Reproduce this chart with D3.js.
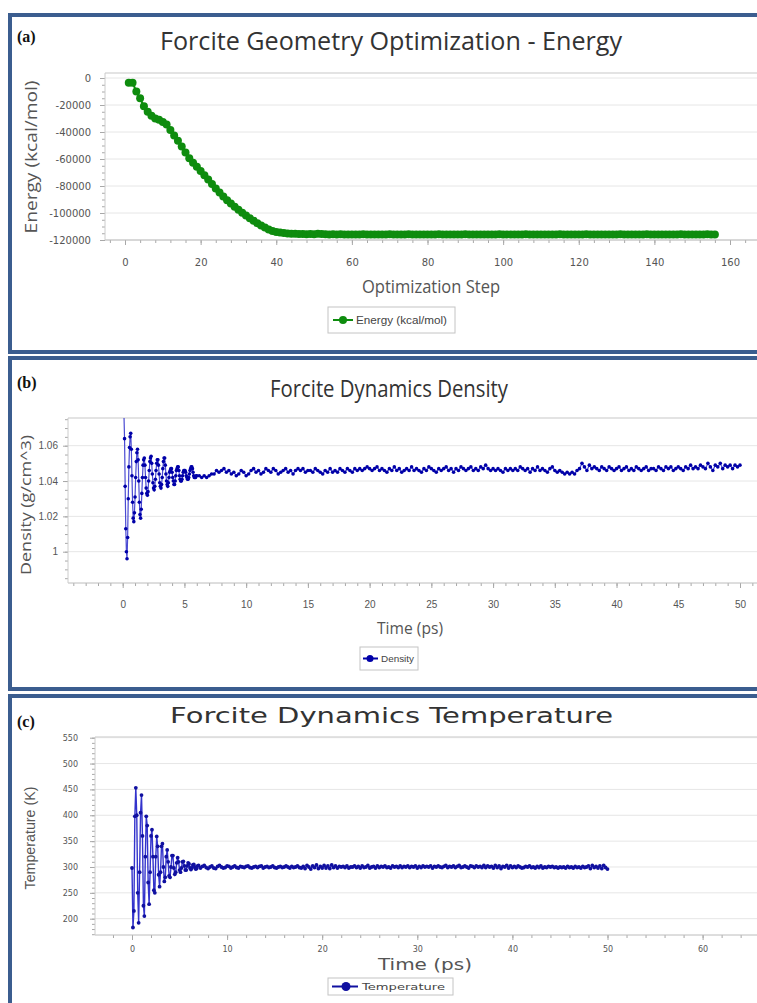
<!DOCTYPE html>
<html lang="en">
<head>
<meta charset="UTF-8">
<title>Forcite results</title>
<script src="https://cdn.jsdelivr.net/npm/d3@7"></script>
<style>
  body{margin:0;background:#fff;}
  svg{display:block;}
  .tick line{stroke:#a8a8a8;}
  .tick text{fill:#555;}
</style>
</head>
<body>
<svg id="main" width="757" height="1003"></svg>
<script>
// ---------- (a) geometry optimization, energy per step (step 1..156)
const energy = [
  -3500,-3500,-10000,-15000,-21000,-25000,-28000,-30000,-31000,-32500,
  -34500,-38500,-42500,-46500,-50800,-55200,-59500,-62800,-65800,-68800,
  -72000,-75200,-78500,-81800,-84800,-87800,-90500,-93000,-95400,-97600,
  -99800,-101800,-103800,-105800,-107600,-109300,-110800,-112200,-113300,-114000,
  -114500,-114900,-115100,-115300,-115400,
  -115500,-115600,-115700,-115600,-115800,-115400,-115600,-115800,-115900,-115800,
  -115900,-115800,-116000,-115900,-115900,-116000,-115900,-115800,-115900,-116000,
  -115900,-115900,-116000,-115900,-115800,-115900,-116000,-115900,-115900,-115800,
  -115900,-116000,-115900,-115900,-115900,-116000,-115900,-115800,-115900,-115900,
  -116000,-115900,-115900,-115900,-115800,-115900,-116000,-115900,-115900,-115900,
  -115900,-116000,-115900,-115800,-115900,-115900,-116000,-115900,-115900,-115900,
  -115800,-115900,-116000,-115900,-115900,-115900,-115900,-116000,-115900,-115800,
  -115900,-115900,-116000,-115900,-115900,-115900,-115800,-115900,-116000,-115900,
  -115900,-115900,-115900,-116000,-115900,-115800,-115900,-115900,-116000,-115900,
  -115900,-115900,-115800,-115900,-116000,-115900,-115900,-115900,-115900,-116000,
  -115900,-115800,-115900,-115900,-116000,-115900,-115900,-115900,-115800,-115900,
  -115900
];
const energyFirstStep = 1;

// ---------- (b) dynamics density, g/cm^3
const densityEarlyStart = 0.1, densityEarlyStep = 0.05;
const densityEarly = [
  1.078,1.064,1.037,1.013,1.000,0.996,1.008,1.030,1.048,1.059,
  1.065,1.067,1.058,1.043,1.028,1.019,1.017,1.022,1.031,1.042,
  1.051,1.056,1.058,1.052,1.040,1.028,1.021,1.019,1.024,1.033,
  1.042,1.049,1.052,1.053,1.049,1.042,1.036,1.033,1.032,1.034,
  1.040,1.046,1.051,1.053,1.054,1.050,1.044,1.039,1.036,1.035,
  1.037,1.041,1.046,1.050,1.052,1.052,1.049,1.044,1.039,1.037,
  1.036,1.038,1.042,1.047,1.051,1.053,1.053,1.049,1.044,1.040,
  1.038,1.037,1.039,1.042,1.045,1.046,1.047,1.047,1.045,1.042,
  1.040,1.038,1.038,1.040,1.043,1.046,1.047,1.048,1.048,1.046,
  1.043,1.041,1.040,1.040,1.041,1.043,1.045,1.046,1.046,1.046,
  1.045,1.043,1.042,1.041,1.041,1.042,1.044,1.046,1.047,1.048,
  1.048,1.047,1.045,1.043,1.042,1.042,1.042,1.043,1.043
];
const densityLateStart = 6.2, densityLateStep = 0.2;
const densityLate = [
  1.043,1.042,1.043,1.042,1.043, 1.044,1.044,1.046,1.045,1.046,
  1.047,1.045,1.046,1.044,1.045, 1.043,1.044,1.046,1.045,1.043,
  1.044,1.046,1.047,1.045,1.046, 1.044,1.045,1.047,1.046,1.045,
  1.047,1.046,1.044,1.045,1.046, 1.047,1.045,1.046,1.044,1.046,
  1.047,1.046,1.047,1.045,1.046, 1.046,1.045,1.047,1.046,1.045,
  1.044,1.046,1.045,1.047,1.045, 1.046,1.045,1.047,1.046,1.045,
  1.047,1.046,1.045,1.047,1.046, 1.047,1.046,1.047,1.048,1.047,
  1.046,1.047,1.048,1.046,1.047, 1.046,1.045,1.047,1.046,1.048,
  1.046,1.047,1.045,1.046,1.047, 1.046,1.048,1.046,1.047,1.046,
  1.045,1.047,1.046,1.048,1.047, 1.046,1.045,1.047,1.046,1.047,
  1.048,1.046,1.047,1.045,1.047, 1.046,1.048,1.047,1.046,1.047,
  1.048,1.046,1.047,1.046,1.048, 1.047,1.049,1.047,1.046,1.047,
  1.046,1.047,1.046,1.045,1.047, 1.046,1.047,1.046,1.047,1.046,
  1.048,1.047,1.046,1.047,1.045, 1.047,1.046,1.048,1.046,1.047,
  1.046,1.045,1.047,1.048,1.046, 1.045,1.046,1.045,1.044,1.045,
  1.044,1.045,1.044,1.046,1.047, 1.050,1.048,1.046,1.049,1.047,
  1.048,1.047,1.046,1.048,1.047, 1.046,1.048,1.047,1.046,1.047,
  1.048,1.046,1.047,1.048,1.046, 1.047,1.046,1.048,1.047,1.046,
  1.047,1.048,1.046,1.047,1.047, 1.046,1.048,1.047,1.046,1.048,
  1.047,1.048,1.046,1.047,1.048, 1.047,1.046,1.048,1.047,1.049,
  1.047,1.048,1.047,1.049,1.048, 1.047,1.050,1.048,1.046,1.049,
  1.048,1.050,1.047,1.049,1.048, 1.049,1.047,1.049,1.048,1.049
];

// ---------- (c) dynamics temperature, K
const tempEarlyStart = 0, tempEarlyStep = 0.1;
const tempEarly = [
  298,183,215,398,453,400,250,192,290,405,
  439,360,225,205,320,398,380,270,228,290,
  360,372,320,255,250,320,359,340,285,262,
  290,340,345,300,272,280,320,333,310,283,
  280,300,322,322,298,286,290,308,318,310,
  294,290,298,310,311,302,294,294,302,308,
  306,298,295,298,304,305,300,296,297,302,303
];
const tempLateStart = 7.2, tempLateStep = 0.2;
const tempLate = [
  298,301,303,299,297, 300,302,298,297,301, 303,300,298,299,302,
  301,298,300,302,299, 298,301,300,299,301, 302,299,298,300,301,
  299,301,302,298,300, 301,299,300,302,299, 298,300,301,299,300,
  302,300,298,301,299, 300,302,299,298,301, 297,303,300,296,302,
  299,304,297,301,298, 303,298,302,297,304, 299,302,298,301,300,
  301,299,302,298,300, 300,302,299,301,298, 302,299,300,303,298,
  300,301,298,302,299, 301,300,302,299,300, 298,302,300,301,299,
  302,299,301,300,302, 299,301,300,302,298, 301,299,302,300,301,
  300,302,298,301,300, 302,300,299,301,303, 299,301,300,302,299,
  301,303,299,300,302, 300,298,302,301,299, 302,300,301,299,303,
  299,302,300,301,298, 303,299,302,297,301, 300,303,298,302,299,
  301,299,302,300,298, 299,301,300,302,299, 300,298,301,299,302,
  298,300,299,301,300, 301,299,300,298,300, 299,300,298,301,299,
  300,298,301,299,300, 298,301,299,300,302, 297,303,299,301,298,
  302,297,303,299,296
];

// ---------- tick labels
const energyXTicks = [0,20,40,60,80,100,120,140,160];
const energyYTicks = [0,-20000,-40000,-60000,-80000,-100000,-120000];
const densityXTicks = [0,5,10,15,20,25,30,35,40,45,50];
const densityYTicks = [1,1.02,1.04,1.06];
const tempXTicks = [0,10,20,30,40,50,60];
const tempYTicks = [200,250,300,350,400,450,500,550];

const W = 757;
const svg = d3.select("#main");
const frameColor = "#3b5d8f";

const series = (vals, start, step) => vals.map((v,i)=>({t: start + i*step, v}));

const energyData = energy.map((v,i)=>({t: energyFirstStep + i, v}));
const densityData = series(densityEarly, densityEarlyStart, densityEarlyStep)
  .concat(series(densityLate, densityLateStart, densityLateStep));
const tempData = series(tempEarly, tempEarlyStart, tempEarlyStep)
  .concat(series(tempLate, tempLateStart, tempLateStep));

const openSans = '"Open Sans", "DejaVu Sans", sans-serif';
const dejavu = '"DejaVu Sans", Verdana, sans-serif';
const narrow = '"Liberation Sans Narrow", "Liberation Sans", Arial, sans-serif';

const panels = [
  {
    id: "a", frameY: 15, frameH: 337, tag: "(a)", tagY: 42,
    title: "Forcite Geometry Optimization - Energy", titleX: 391, titleY: 50, titleSize: 26, titleLen: 462, titleFont: openSans,
    plot: {left:105, top:73, bottom:240},
    x: d3.scaleLinear().domain([0,160]).range([125,730]),
    y: d3.scaleLinear().domain([-120000,0]).range([240,78]),
    xTicks: energyXTicks, yTicks: energyYTicks,
    xMinor: d3.range(-4, 170, 4), yMinor: d3.range(-120000, 1, 5000),
    xFmt: d=>String(d), yFmt: d=>String(d),
    tickFont: dejavu, tickSize: 10, xPad: 14, yPad: 9,
    xLabel: "Optimization Step", xLabelX: 431, xLabelY: 293, xLabelSize: 18, xLabelLen: 138, xLabelFont: openSans,
    yLabel: "Energy (kcal/mol)", yLabelX: 37, yLabelY: 157, yLabelSize: 16, yLabelLen: 153, yLabelFont: openSans,
    data: energyData, color: "#0e8c0e", style: "dots",
    legend: {x:328, y:307, w:127, h:26, l1:333, l2:353, mx:343, r:4, tx:356, text:"Energy (kcal/mol)", tsize:10, tlen:91, font: narrow}
  },
  {
    id: "b", frameY: 358, frameH: 331, tag: "(b)", tagY: 388,
    title: "Forcite Dynamics Density", titleX: 389, titleY: 397, titleSize: 23, titleLen: 238, titleFont: openSans,
    plot: {left:68, top:418, bottom:583},
    x: d3.scaleLinear().domain([0,50]).range([122.7,740]),
    y: d3.scaleLinear().domain([1,1.06]).range([551.7,445.7]),
    xTicks: densityXTicks, yTicks: densityYTicks,
    xMinor: d3.range(-4, 52, 1), yMinor: d3.range(0.985, 1.076, 0.005),
    xFmt: d=>String(d), yFmt: d=>String(+d.toFixed(2)),
    tickFont: narrow, tickSize: 10, xPad: 13, yPad: 5,
    xLabel: "Time (ps)", xLabelX: 410, xLabelY: 634, xLabelSize: 17, xLabelLen: 66, xLabelFont: openSans,
    yLabel: "Density (g/cm^3)", yLabelX: 31, yLabelY: 505, yLabelSize: 15, yLabelLen: 140, yLabelFont: openSans,
    data: densityData, color: "#0000a8", line: "#4a4ad2", lineW: 1.2, dotR: 1.8, style: "line",
    legend: {x:360, y:647, w:58, h:23, l1:363, l2:378, mx:370, r:3.5, tx:381, text:"Density", tsize:9, tlen:33, font: narrow}
  },
  {
    id: "c", frameY: 696, frameH: 400, tag: "(c)", tagY: 727,
    title: "Forcite Dynamics Temperature", titleX: 391.5, titleY: 723, titleSize: 22, titleLen: 443, titleFont: dejavu,
    plot: {left:95, top:737, bottom:935},
    x: d3.scaleLinear().domain([0,60]).range([132,702.6]),
    y: d3.scaleLinear().domain([200,550]).range([918.7,737.7]),
    xTicks: tempXTicks, yTicks: tempYTicks,
    xMinor: d3.range(-2, 66, 2), yMinor: d3.range(170, 551, 10),
    xFmt: d=>String(d), yFmt: d=>String(d),
    tickFont: dejavu, tickSize: 8, xPad: 6, yPad: 12,
    xLabel: "Time (ps)", xLabelX: 425, xLabelY: 970, xLabelSize: 15, xLabelLen: 94, xLabelFont: dejavu,
    yLabel: "Temperature (K)", yLabelX: 35, yLabelY: 838, yLabelSize: 14, yLabelLen: 103, yLabelFont: narrow,
    data: tempData, color: "#1010a0", line: "#3333cc", lineW: 1.4, dotR: 1.9, style: "line",
    legend: {x:328, y:978, w:125, h:17, l1:332, l2:358, mx:346, r:4.5, tx:362, text:"Temperature", tsize:9.5, tlen:83, font: dejavu}
  }
];

// frames first so everything sits on top
panels.forEach(p=>{
  svg.append("rect")
    .attr("x",10).attr("y",p.frameY).attr("width",800).attr("height",p.frameH)
    .attr("fill","#fff").attr("stroke",frameColor).attr("stroke-width",4);
});

panels.forEach(p=>{
  const g = svg.append("g").attr("class","panel-"+p.id);
  const {plot, x, y} = p;

  g.append("text").attr("x",17).attr("y",p.tagY)
    .attr("font-family",'"Liberation Serif", "Times New Roman", serif')
    .attr("font-weight","bold").attr("font-size",16).attr("fill","#111").text(p.tag);

  g.append("text").attr("x",p.titleX).attr("y",p.titleY).attr("text-anchor","middle")
    .attr("font-family",p.titleFont).attr("font-size",p.titleSize).attr("fill","#333")
    .attr("textLength",p.titleLen).attr("lengthAdjust","spacingAndGlyphs").text(p.title);

  // gridlines
  g.append("g").selectAll("line").data(p.yTicks).join("line")
    .attr("x1",plot.left).attr("x2",W).attr("y1",d=>y(d)).attr("y2",d=>y(d))
    .attr("stroke","#e6e6e6");
  g.append("line").attr("x1",plot.left).attr("x2",W).attr("y1",plot.top).attr("y2",plot.top)
    .attr("stroke","#dadada").attr("stroke-width",1.5);

  // minor ticks
  g.append("g").attr("transform",`translate(0,${plot.bottom})`)
    .call(d3.axisBottom(x).tickValues(p.xMinor).tickSize(3).tickFormat(""))
    .call(s=>s.select(".domain").remove());
  g.append("g").attr("transform",`translate(${plot.left},0)`)
    .call(d3.axisLeft(y).tickValues(p.yMinor).tickSize(3).tickFormat(""))
    .call(s=>s.select(".domain").remove());

  // major ticks
  const xa = g.append("g").attr("transform",`translate(0,${plot.bottom})`)
    .call(d3.axisBottom(x).tickValues(p.xTicks).tickSize(5).tickPadding(p.xPad).tickFormat(p.xFmt));
  const ya = g.append("g").attr("transform",`translate(${plot.left},0)`)
    .call(d3.axisLeft(y).tickValues(p.yTicks).tickSize(5).tickPadding(p.yPad).tickFormat(p.yFmt));
  [xa, ya].forEach(a=>{
    a.select(".domain").remove();
    a.selectAll("text").attr("font-family",p.tickFont).attr("font-size",p.tickSize);
  });

  // axis lines
  g.append("line").attr("x1",plot.left).attr("x2",W).attr("y1",plot.bottom).attr("y2",plot.bottom)
    .attr("stroke","#bcbcbc");
  g.append("line").attr("x1",plot.left).attr("x2",plot.left).attr("y1",plot.top).attr("y2",plot.bottom)
    .attr("stroke","#cccccc");

  // axis titles
  g.append("text").attr("x",p.xLabelX).attr("y",p.xLabelY).attr("text-anchor","middle")
    .attr("font-family",p.xLabelFont).attr("font-size",p.xLabelSize).attr("fill","#555")
    .attr("textLength",p.xLabelLen).attr("lengthAdjust","spacingAndGlyphs").text(p.xLabel);
  g.append("text").attr("transform",`translate(${p.yLabelX},${p.yLabelY}) rotate(-90)`)
    .attr("text-anchor","middle")
    .attr("font-family",p.yLabelFont).attr("font-size",p.yLabelSize).attr("fill","#555")
    .attr("textLength",p.yLabelLen).attr("lengthAdjust","spacingAndGlyphs").text(p.yLabel);

  // data
  const clipId = "clip-"+p.id;
  g.append("clipPath").attr("id",clipId).append("rect")
    .attr("x",plot.left).attr("y",plot.top).attr("width",W-plot.left).attr("height",plot.bottom-plot.top);
  const dg = g.append("g").attr("clip-path",`url(#${clipId})`);
  const line = d3.line().x(d=>x(d.t)).y(d=>y(d.v));

  if (p.style === "dots") {
    dg.append("path").datum(p.data).attr("d",line)
      .attr("fill","none").attr("stroke",p.color).attr("stroke-width",2);
    dg.selectAll("circle").data(p.data).join("circle")
      .attr("cx",d=>x(d.t)).attr("cy",d=>y(d.v)).attr("r",4).attr("fill",p.color);
  } else {
    dg.append("path").datum(p.data).attr("d",line)
      .attr("fill","none").attr("stroke",p.line).attr("stroke-width",p.lineW);
    dg.selectAll("circle").data(p.data).join("circle")
      .attr("cx",d=>x(d.t)).attr("cy",d=>y(d.v)).attr("r",p.dotR).attr("fill",p.color);
  }

  // legend
  const L = p.legend;
  const lg = g.append("g");
  lg.append("rect").attr("x",L.x).attr("y",L.y).attr("width",L.w).attr("height",L.h)
    .attr("fill","#fff").attr("stroke","#c4c4c4");
  const ly = L.y + L.h/2;
  lg.append("line").attr("x1",L.l1).attr("x2",L.l2).attr("y1",ly).attr("y2",ly)
    .attr("stroke",p.color).attr("stroke-width",2);
  lg.append("circle").attr("cx",L.mx).attr("cy",ly).attr("r",L.r).attr("fill",p.color);
  lg.append("text").attr("x",L.tx).attr("y",ly).attr("dy","0.35em")
    .attr("font-family",L.font).attr("font-size",L.tsize).attr("fill","#444")
    .attr("textLength",L.tlen).attr("lengthAdjust","spacingAndGlyphs").text(L.text);
});
</script>
</body>
</html>
